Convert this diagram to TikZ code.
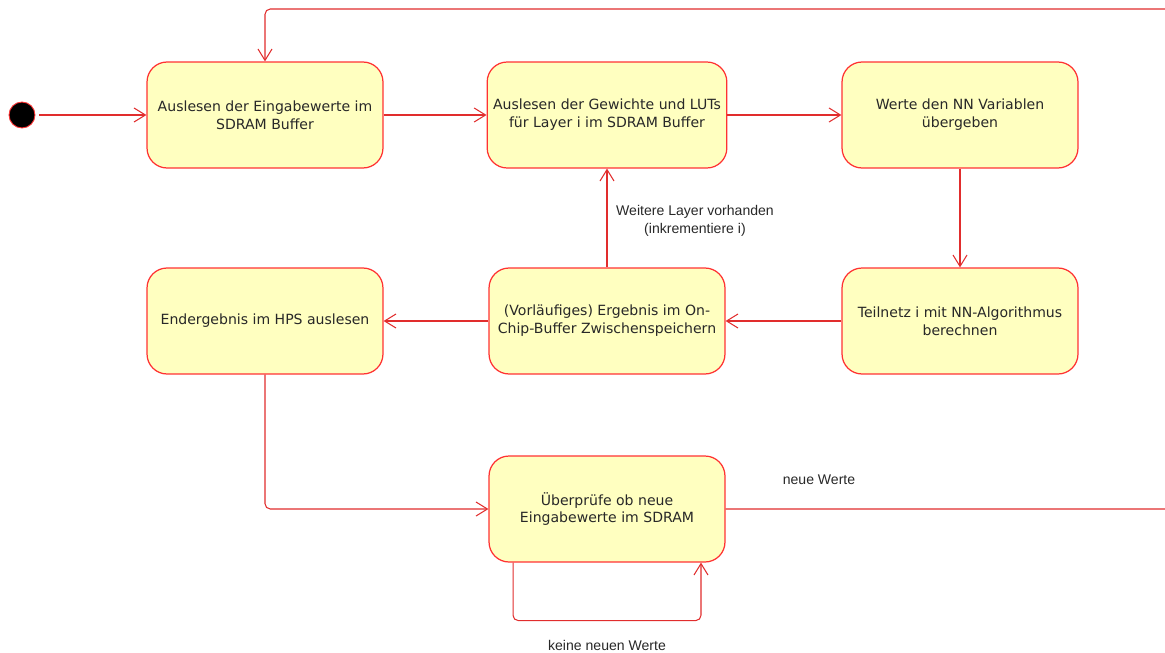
\documentclass[tikz,border=0pt]{standalone}
\usepackage{fontspec}
\setmainfont{DejaVu Sans}
\newfontfamily\labelfont{Liberation Sans}
\usepackage{tikz}
\usetikzlibrary{arrows.meta}

\definecolor{statefill}{RGB}{255,255,192}
\definecolor{stateline}{RGB}{255,50,50}
\definecolor{flowline}{RGB}{225,45,45}
\definecolor{statetext}{RGB}{40,40,40}

\tikzset{
  state/.style={draw=stateline, fill=statefill, line width=0.7pt, rounded corners=0.4cm,
    minimum width=4.72cm, minimum height=2.12cm, align=center,
    font=\fontsize{8}{10.2}\selectfont, text=statetext},
  flow/.style={draw=flowline, line width=0.6pt, -{Straight Barb[length=6.5pt,width=8pt]}},
  flowlabel/.style={font=\labelfont\fontsize{8}{10.2}\selectfont, text=statetext, align=center}
}

\begin{document}
\begin{tikzpicture}[x=0.02cm, y=-0.02cm]
\useasboundingbox (0,0) rectangle (1165,652);
\clip (0,0) rectangle (1165,652);
% states
\node [circle, fill=black, draw=stateline, line width=0.5pt, minimum size=0.52cm, inner sep=0pt] (start) at (22,115) {};
\node [state] (eingabe) at (265,115) {Auslesen der Eingabewerte im\\SDRAM Buffer};
\node [state] (gewichte) at (607,115) {Auslesen der Gewichte und LUTs\\f\"ur Layer i im SDRAM Buffer};
\node [state] (variablen) at (960,115) {Werte den NN Variablen\\\"ubergeben};
\node [state] (teilnetz) at (960,321) {Teilnetz i mit NN-Algorithmus\\berechnen};
\node [state] (zwischen) at (607,321) {(Vorl\"aufiges) Ergebnis im On-\\Chip-Buffer Zwischenspeichern};
\node [state] (endergebnis) at (265,321) {Endergebnis im HPS auslesen};
\node [state] (pruefe) at (607,509) {\"Uberpr\"ufe ob neue\\Eingabewerte im SDRAM};
% transitions
\draw [flow, shorten <=2pt] (start) -- (eingabe);
\draw [flow] (eingabe) -- (gewichte);
\draw [flow] (gewichte) -- (variablen);
\draw [flow] (variablen) -- (teilnetz);
\draw [flow] (teilnetz) -- (zwischen);
\draw [flow] (zwischen) -- (endergebnis);
\draw [flow] (zwischen) -- (gewichte);
\draw [flow, rounded corners=3pt] (endergebnis.south) |- (pruefe.west);
\draw [flow, rounded corners=3pt] (pruefe.east) -- (1185,509) -- (1185,9) -- (265,9) -- (eingabe.north);
\draw [flow, rounded corners=3pt] ([xshift=-1.88cm]pruefe.south) -- ++(0,58) -| ([xshift=1.88cm]pruefe.south);
% labels
\node [flowlabel] (weitere) at (695,221) {Weitere Layer vorhanden\\(inkrementiere i)};
\node [flowlabel] (neue) at (819,480) {neue Werte};
\node [flowlabel] (keine) at (607,645) {keine neuen Werte};
\end{tikzpicture}
\end{document}
